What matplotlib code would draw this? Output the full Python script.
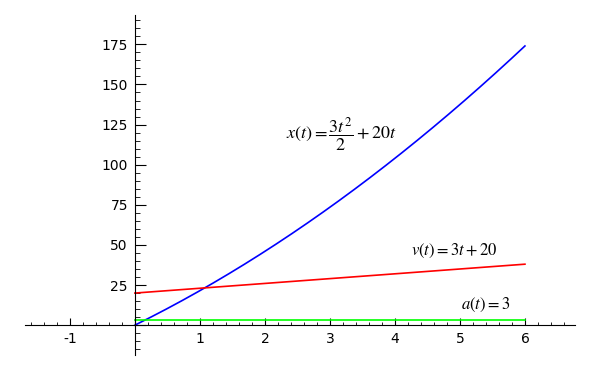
import numpy as np
import matplotlib
matplotlib.use("Agg")
import matplotlib.pyplot as plt
from matplotlib.ticker import MultipleLocator, FuncFormatter

plt.rcParams['mathtext.fontset'] = 'stix'

# data
t = np.linspace(0, 6, 200)
pos = 1.5 * t**2 + 20 * t
vel = 3 * t + 20
acc = np.full_like(t, 3.0)

labels = [r"$x(t) = \dfrac{3t^2}{2} + 20t$", r"$v(t) = 3t + 20$", r"$a(t) = 3$"]
label_xy = [(3.17, 119), (4.92, 46.5), (5.4, 12.5)]
label_size = [13, 12, 12]

fig = plt.figure(figsize=(6, 3.7), dpi=100)
ax = fig.add_axes([25/600, 15/370, 550/600, 340/370])

ax.plot(t, pos, color="blue", lw=1.2)
ax.plot(t, vel, color="red", lw=1.2)
ax.plot(t, acc, color="#00ff00", lw=1.2)

for s, (x, y), fs in zip(labels, label_xy, label_size):
    ax.text(x, y, s, ha="center", va="center", fontsize=fs)

ax.set_xlim(-1.69, 6.77)
ax.set_ylim(-18.6, 193.3)

ax.spines['left'].set_position(('data', 0))
ax.spines['bottom'].set_position(('data', 0))
ax.spines['right'].set_visible(False)
ax.spines['top'].set_visible(False)

ax.xaxis.set_major_locator(MultipleLocator(1))
ax.xaxis.set_minor_locator(MultipleLocator(0.2))
ax.yaxis.set_major_locator(MultipleLocator(25))
ax.yaxis.set_minor_locator(MultipleLocator(5))

fmt = FuncFormatter(lambda v, p: "" if abs(v) < 1e-9 else "%g" % v)
ax.xaxis.set_major_formatter(fmt)
ax.yaxis.set_major_formatter(fmt)

ax.tick_params(axis='x', which='major', direction='in', length=5, pad=5, labelsize=10)
ax.tick_params(axis='x', which='minor', direction='in', length=2.5)
ax.tick_params(axis='y', which='major', direction='in', length=8, pad=5, labelsize=10)
ax.tick_params(axis='y', which='minor', direction='in', length=3.5)

fig.savefig("out.png", dpi=100)
